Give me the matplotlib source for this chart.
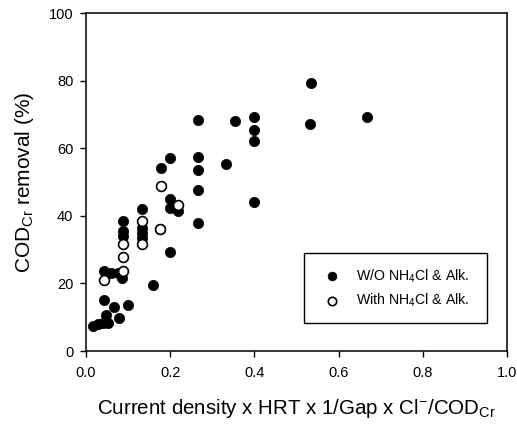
import matplotlib
matplotlib.use("Agg")
import matplotlib.pyplot as plt

plt.rcParams['font.family'] = ['Liberation Sans', 'DejaVu Sans']
plt.rcParams['mathtext.fontset'] = 'custom'
plt.rcParams['mathtext.rm'] = 'Liberation Sans'
plt.rcParams['mathtext.it'] = 'Liberation Sans'

# W/O NH4Cl & Alk. (filled)
wo_x = [0.017, 0.029, 0.040, 0.052, 0.047, 0.043, 0.066, 0.078, 0.100,
        0.043, 0.059, 0.076, 0.086,
        0.088, 0.088, 0.088,
        0.133, 0.133, 0.133, 0.133,
        0.160, 0.176, 0.178, 0.200, 0.200, 0.200, 0.200, 0.219,
        0.266, 0.266, 0.266, 0.266, 0.266,
        0.333, 0.354, 0.400, 0.400, 0.400, 0.400,
        0.532, 0.534, 0.667]
wo_y = [7.4, 8.0, 8.3, 8.3, 10.6, 15.0, 13.0, 9.8, 13.6,
        23.7, 23.0, 23.2, 21.6,
        34.0, 35.5, 38.5,
        42.0, 36.4, 34.9, 33.4,
        19.5, 36.0, 54.1, 57.1, 45.0, 42.3, 29.3, 41.5,
        68.4, 57.4, 53.7, 47.6, 37.8,
        55.2, 68.1, 69.3, 65.3, 62.2, 44.1,
        67.2, 79.4, 69.2]

# With NH4Cl & Alk. (open)
w_x = [0.043, 0.088, 0.088, 0.088, 0.133, 0.133, 0.176, 0.178, 0.219]
w_y = [21.0, 23.7, 27.8, 31.8, 38.5, 31.6, 36.0, 48.8, 43.2]

xticks = [0.0, 0.2, 0.4, 0.6, 0.8, 1.0]
yticks = [0, 20, 40, 60, 80, 100]

fig = plt.figure(figsize=(5.17, 4.25), dpi=100)
ax = fig.add_axes([0.1663, 0.1741, 0.8144, 0.7953])

ax.scatter(wo_x, wo_y, s=55, c='black', edgecolors='black', linewidths=0.5,
           label='W/O NH$_4$Cl & Alk.', zorder=3)
ax.scatter(w_x, w_y, s=50, c='white', edgecolors='black', linewidths=1.2,
           label='With NH$_4$Cl & Alk.', zorder=4)

ax.set_xlim(0, 1.0)
ax.set_ylim(0, 100)
ax.set_xticks(xticks)
ax.set_xticklabels([f"{v:.1f}" for v in xticks])
ax.set_yticks(yticks)
ax.tick_params(direction='out', length=4, width=1, labelsize=10.5)
ax.tick_params(axis='x', pad=7)
ax.tick_params(axis='y', pad=5)
for sp in ax.spines.values():
    sp.set_linewidth(1.1)

ax.set_xlabel('Current density x HRT x 1/Gap x Cl$^{-}$/COD$_{Cr}$', fontsize=14.8, labelpad=12)
ax.set_ylabel('COD$_{Cr}$ removal (%)', fontsize=15, labelpad=9)

leg = ax.legend(loc='upper left', bbox_to_anchor=(0.518, 0.29, 0.435, 0.0), mode='expand',
                borderaxespad=0.0,
                fontsize=10.2, frameon=True, fancybox=False, edgecolor='black', framealpha=1,
                borderpad=1.0, handletextpad=0.7, labelspacing=0.5, markerscale=0.85,
                handlelength=2.0)
leg.get_frame().set_linewidth(1.0)

fig.savefig('out.png', dpi=100)
